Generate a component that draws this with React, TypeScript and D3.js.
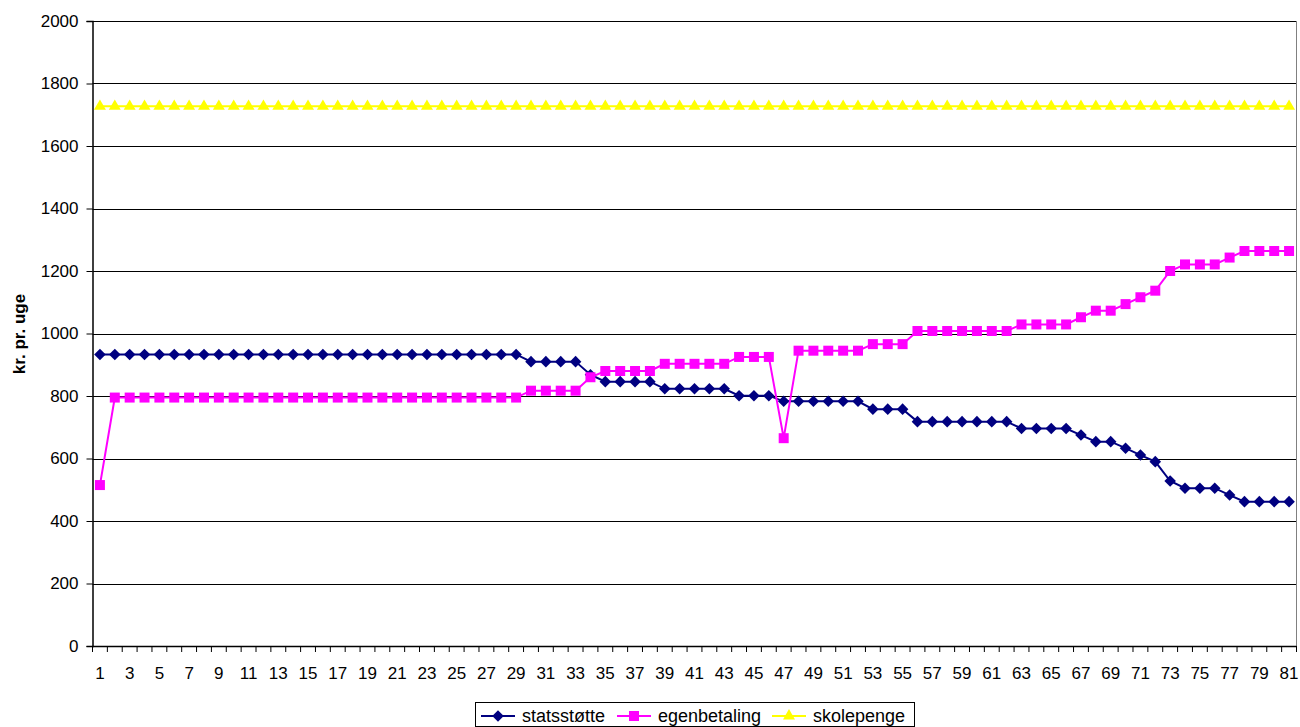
import { useEffect, useRef } from "react";
import * as d3 from "d3";

const weeks = d3.range(1, 82);

const statsstotte = [
  ...Array(29).fill(933),
  910, 910, 910, 910,
  868,
  846, 846, 846, 846,
  823, 823, 823, 823, 823,
  801, 801, 801,
  783, 783, 783, 783, 783, 783,
  758, 758, 758,
  718, 718, 718, 718, 718, 718, 718,
  696, 696, 696, 696,
  675,
  654, 654,
  633, 611, 590, 528,
  505, 505, 505,
  483,
  462, 462, 462, 462,
];

const egenbetaling = [
  515,
  ...Array(28).fill(795),
  817, 817, 817, 817,
  860,
  880, 880, 880, 880,
  903, 903, 903, 903, 903,
  925, 925, 925,
  665,
  945, 945, 945, 945, 945,
  966, 966, 966,
  1008, 1008, 1008, 1008, 1008, 1008, 1008,
  1029, 1029, 1029, 1029,
  1052,
  1073, 1073,
  1094, 1116, 1137, 1200,
  1221, 1221, 1221,
  1243,
  1264, 1264, 1264, 1264,
];

const skolepenge = Array(81).fill(1727);

const yTicks = [0, 200, 400, 600, 800, 1000, 1200, 1400, 1600, 1800, 2000];

const seriesNames = ["statsstøtte", "egenbetaling", "skolepenge"];
const seriesColors = ["#000080", "#ff00ff", "#ffff00"];
const seriesShapes = [d3.symbolDiamond2, d3.symbolSquare, d3.symbolTriangle];

const W = 1300;
const H = 727;
const FONT = "'Liberation Sans', Arial, sans-serif";

export default function App() {
  const ref = useRef<SVGSVGElement | null>(null);

  useEffect(() => {
    document.body.style.margin = "0";
    if (!ref.current) return;
    const svg = d3.select(ref.current);
    svg.selectAll("*").remove();

    const plot = { left: 92.5, right: 1296.5, top: 21, bottom: 646 };

    const x = d3
      .scaleBand<number>()
      .domain(weeks)
      .range([plot.left, plot.right]);
    const cx = (w: number) => x(w)! + x.bandwidth() / 2;

    const y = d3.scaleLinear().domain([0, 2000]).range([plot.bottom, plot.top]);

    // gridlines
    svg
      .append("g")
      .selectAll("line")
      .data(yTicks.filter((t) => t > 0))
      .join("line")
      .attr("x1", plot.left)
      .attr("x2", plot.right)
      .attr("y1", (d) => Math.round(y(d)) + 0.5)
      .attr("y2", (d) => Math.round(y(d)) + 0.5)
      .attr("stroke", "#000")
      .attr("stroke-width", 1);

    // right border
    svg
      .append("line")
      .attr("x1", plot.right)
      .attr("x2", plot.right)
      .attr("y1", plot.top)
      .attr("y2", plot.bottom)
      .attr("stroke", "#808080");

    // y axis
    const yAxis = svg
      .append("g")
      .attr("transform", `translate(${plot.left},0)`)
      .call(d3.axisLeft(y).tickValues(yTicks).tickSize(6).tickPadding(8).tickFormat(d3.format("d")));
    yAxis.select(".domain").attr("stroke", "#000").attr("stroke-width", 1.5);
    yAxis.selectAll(".tick line").attr("stroke", "#000");
    yAxis
      .selectAll("text")
      .attr("font-family", FONT)
      .attr("font-size", 17)
      .attr("fill", "#000");

    // x axis: ticks between categories
    const xg = svg.append("g");
    xg.append("line")
      .attr("x1", plot.left)
      .attr("x2", plot.right)
      .attr("y1", plot.bottom + 0.5)
      .attr("y2", plot.bottom + 0.5)
      .attr("stroke", "#000")
      .attr("stroke-width", 1.5);
    xg.selectAll("line.tk")
      .data([...weeks.map((w) => x(w)!), plot.right])
      .join("line")
      .attr("class", "tk")
      .attr("x1", (d) => d)
      .attr("x2", (d) => d)
      .attr("y1", plot.bottom)
      .attr("y2", plot.bottom + 6)
      .attr("stroke", "#000");
    xg.selectAll("text")
      .data(weeks.filter((w) => w % 2 === 1))
      .join("text")
      .attr("x", (d) => cx(d))
      .attr("y", 679)
      .attr("text-anchor", "middle")
      .attr("font-family", FONT)
      .attr("font-size", 17)
      .text((d) => String(d));

    // y label
    svg
      .append("text")
      .attr("transform", `translate(25,334) rotate(-90)`)
      .attr("text-anchor", "middle")
      .attr("font-family", FONT)
      .attr("font-size", 17)
      .attr("font-weight", "bold")
      .text("kr. pr. uge");

    const allSeries = [statsstotte, egenbetaling, skolepenge];
    const line = d3
      .line<number>()
      .x((_, i) => cx(weeks[i]))
      .y((d) => y(d));

    const sizes = [85, 100, 62];
    allSeries.forEach((vals, si) => {
      const g = svg.append("g");
      g.append("path")
        .datum(vals)
        .attr("d", line)
        .attr("fill", "none")
        .attr("stroke", seriesColors[si])
        .attr("stroke-width", 2);
      g.selectAll("path.m")
        .data(vals)
        .join("path")
        .attr("class", "m")
        .attr("transform", (d, i) => `translate(${cx(weeks[i])},${y(d)})`)
        .attr("d", d3.symbol(seriesShapes[si], sizes[si])())
        .attr("fill", seriesColors[si]);
    });

    // legend
    const lg = svg.append("g");
    lg.append("rect")
      .attr("x", 475.5)
      .attr("y", 702.5)
      .attr("width", 439)
      .attr("height", 24)
      .attr("fill", "#fff")
      .attr("stroke", "#000");
    const items = [
      { x0: 481, tx: 522 },
      { x0: 617, tx: 658 },
      { x0: 772, tx: 813 },
    ];
    items.forEach((it, si) => {
      lg.append("line")
        .attr("x1", it.x0)
        .attr("x2", it.x0 + 34)
        .attr("y1", 716)
        .attr("y2", 716)
        .attr("stroke", seriesColors[si])
        .attr("stroke-width", 2);
      lg.append("path")
        .attr("transform", `translate(${it.x0 + 17},716)`)
        .attr("d", d3.symbol(seriesShapes[si], sizes[si])())
        .attr("fill", seriesColors[si]);
      lg.append("text")
        .attr("x", it.tx)
        .attr("y", 722)
        .attr("font-family", FONT)
        .attr("font-size", 18)
        .text(seriesNames[si]);
    });
  }, []);

  return <svg ref={ref} width={W} height={H} style={{ display: "block", background: "#fff" }} />;
}
